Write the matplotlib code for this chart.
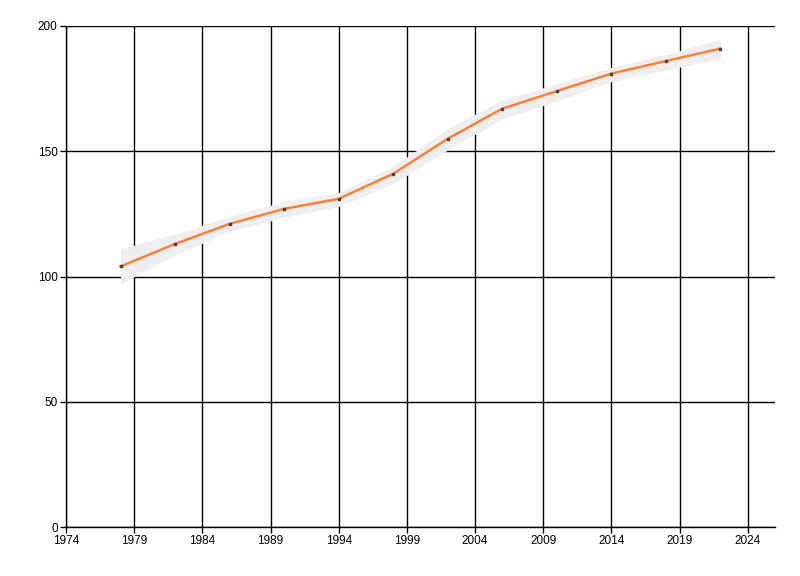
import matplotlib.pyplot as plt

# data
years = [1978, 1982, 1986, 1990, 1994, 1998, 2002, 2006, 2010, 2014, 2018, 2022]
values = [104, 113, 121, 127, 131, 141, 155, 167, 174, 181, 186, 191]
upper = [111, 117, 124, 130, 133.5, 144, 159, 170.5, 177, 183.5, 188.7, 194.7]
lower = [97, 108.6, 118, 123.6, 128, 137, 150.5, 163, 170, 177.8, 182.4, 187]

x_ticks = [1974, 1979, 1984, 1989, 1994, 1999, 2004, 2009, 2014, 2019, 2024]
y_ticks = [0, 50, 100, 150, 200]

plt.rcParams['font.family'] = ['Liberation Sans', 'DejaVu Sans']

fig = plt.figure(figsize=(8, 5.76), dpi=100)
ax = fig.add_axes([66 / 800, 49 / 576, 709 / 800, 501 / 576])

ax.fill_between(years, lower, upper, color='#efefef', linewidth=0, zorder=2)
ax.plot(years, values, color='#ff7f3a', linewidth=1.8, zorder=3)
ax.plot(years, values, linestyle='none', marker='s', markersize=2,
        color='#444444', zorder=4)

ax.set_xlim(1974, 2026)
ax.set_ylim(0, 200)
ax.set_xticks(x_ticks)
ax.set_yticks(y_ticks)
ax.grid(True, color='black', linewidth=1, zorder=1)
ax.set_axisbelow(True)

for side in ['top', 'right']:
    ax.spines[side].set_visible(False)
for side in ['left', 'bottom']:
    ax.spines[side].set_linewidth(1)

ax.tick_params(direction='out', length=4, width=1, labelsize=8.5, pad=2)

plt.savefig('out.png', dpi=100)
